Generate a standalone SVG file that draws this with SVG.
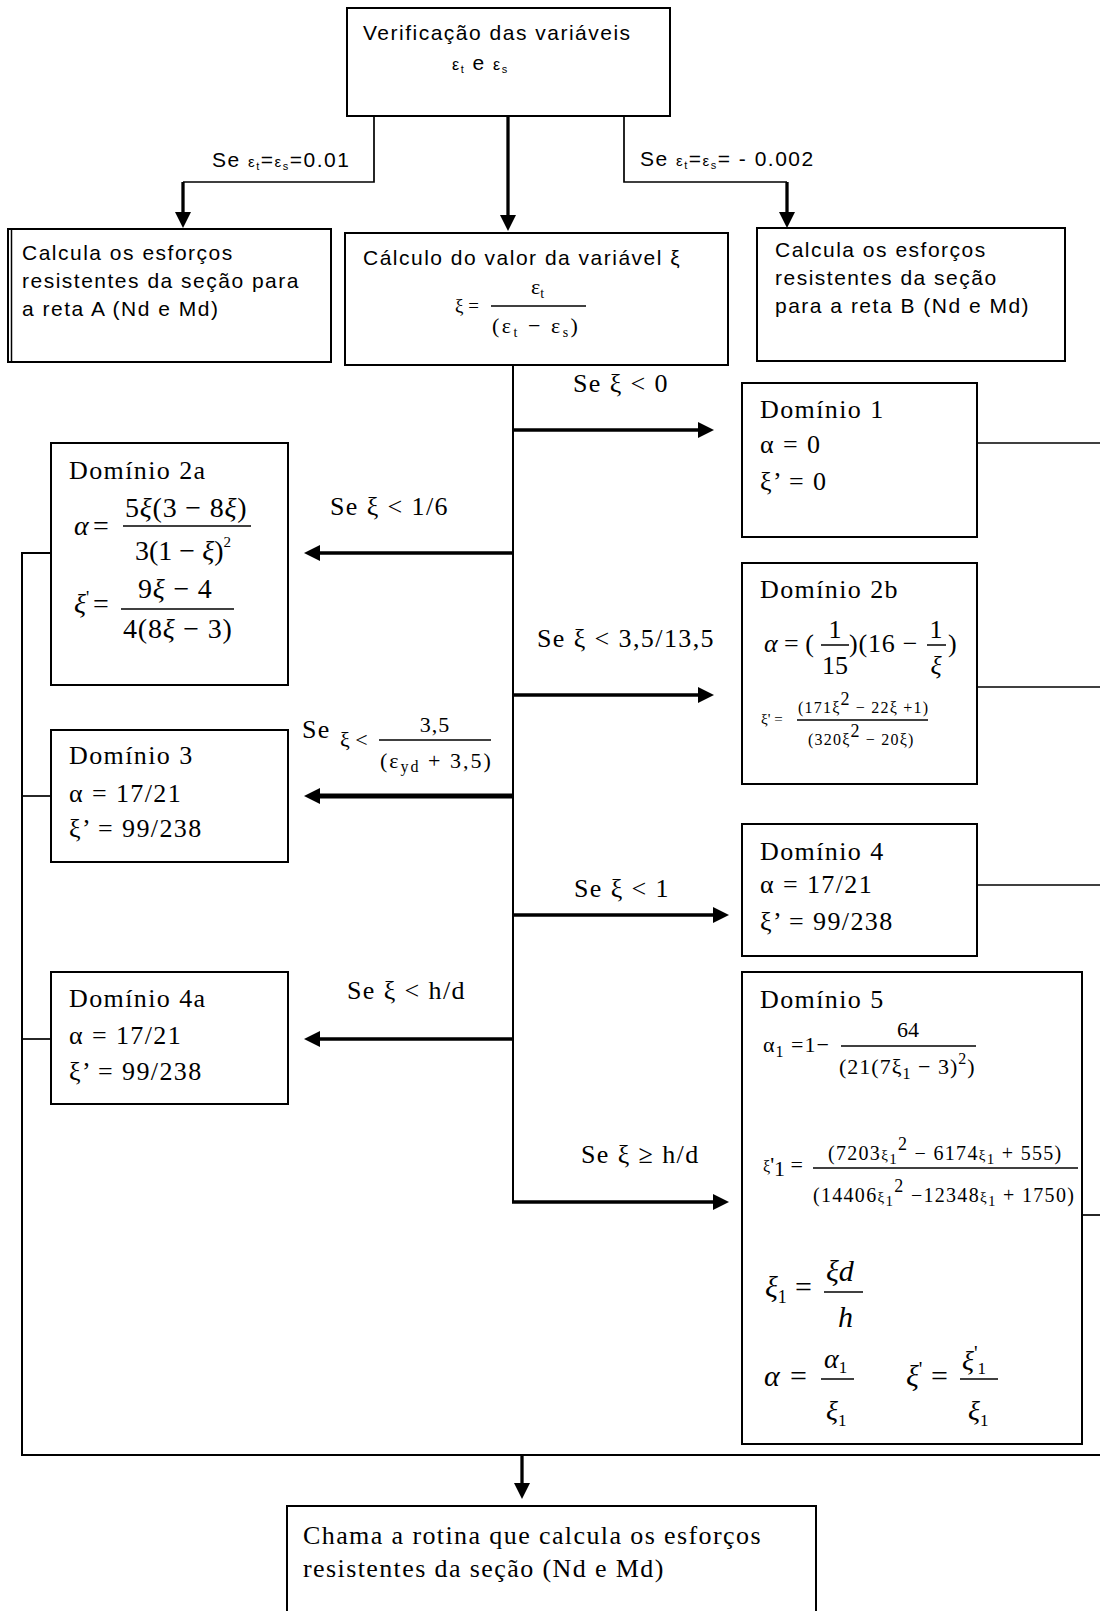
<svg xmlns="http://www.w3.org/2000/svg" width="1100" height="1611" viewBox="0 0 1100 1611">
<defs>
<style>
.box{fill:#fff;stroke:#000;stroke-width:2}
.ln{fill:none;stroke:#000;stroke-width:1.7}
.sp{fill:none;stroke:#000;stroke-width:2}
.ar{fill:none;stroke:#000;stroke-width:3.3}
.fr{stroke:#000;stroke-width:1.5}
.sans{font-family:'Liberation Sans',Arial,sans-serif;font-size:21px;letter-spacing:1.5px;fill:#000}
.ser{font-family:'Liberation Serif','Times New Roman',serif;font-size:26px;letter-spacing:1.4px;fill:#000}
.m{font-family:'Liberation Serif','Times New Roman',serif;fill:#000}
.it{font-style:italic}
.up{font-style:normal}
</style>
<marker id="ah" viewBox="0 0 16 16" markerWidth="16" markerHeight="16" markerUnits="userSpaceOnUse" refX="2" refY="8" orient="auto"><path d="M0,0 L16,8 L0,16 z" fill="#000"/></marker>
</defs>
<rect width="1100" height="1611" fill="#fff"/>

<g id="n-top">
<rect class="box" x="347" y="8" width="323" height="108"/>
<text class="sans" x="363" y="40">Verificação das variáveis</text>
<text class="sans" x="452" y="70"><tspan font-size="16">ε</tspan><tspan font-size="11" dy="3">t</tspan><tspan dy="-3"> e </tspan><tspan font-size="16">ε</tspan><tspan font-size="11" dy="3">s</tspan></text>
</g>

<g id="n-retaA">
<rect class="box" x="8" y="229" width="323" height="133"/>
<line x1="11.5" y1="229" x2="11.5" y2="362" stroke="#000" stroke-width="1.5"/>
<text class="sans" x="22" y="260">Calcula os esforços</text>
<text class="sans" x="22" y="288">resistentes da seção para</text>
<text class="sans" x="22" y="316">a reta A (Nd e Md)</text>
</g>

<g id="n-xi">
<rect class="box" x="345" y="233" width="383" height="132"/>
<text class="sans" x="363" y="265">Cálculo do valor da variável ξ</text>
<text class="m" x="455" y="312" font-size="19">ξ =</text>
<text class="m" x="531" y="294" font-size="22">ε<tspan font-size="14" dy="4">t</tspan></text>
<line class="fr" x1="491" y1="306" x2="586" y2="306"/>
<text class="m" x="492" y="333" font-size="22" letter-spacing="2.5">(ε<tspan font-size="14" dy="4">t</tspan><tspan dy="-4"> − ε</tspan><tspan font-size="14" dy="4">s</tspan><tspan dy="-4">)</tspan></text>
</g>

<g id="n-retaB">
<rect class="box" x="757" y="228" width="308" height="133"/>
<text class="sans" x="775" y="257">Calcula os esforços</text>
<text class="sans" x="775" y="285">resistentes da seção</text>
<text class="sans" x="775" y="313">para a reta B (Nd e Md)</text>
</g>

<g id="n-d1">
<rect class="box" x="742" y="383" width="235" height="154"/>
<text class="ser" x="760" y="418">Domínio 1</text>
<text class="ser" x="760" y="453">α = 0</text>
<text class="ser" x="760" y="490">ξ’ = 0</text>
</g>

<g id="n-d2a">
<rect class="box" x="51" y="443" width="237" height="242"/>
<text class="ser" x="69" y="479">Domínio 2a</text>
<text class="m it" x="74" y="535" font-size="28">α</text>
<text class="m" x="93" y="535" font-size="28">=</text>
<text class="m" x="125" y="517" font-size="28" letter-spacing="0.8">5<tspan class="it">ξ</tspan>(3 − 8<tspan class="it">ξ</tspan>)</text>
<line class="fr" x1="123" y1="526" x2="251" y2="526"/>
<text class="m" x="135" y="560" font-size="28">3(1 − <tspan class="it">ξ</tspan>)<tspan font-size="15" dy="-13">2</tspan></text>
<text class="m it" x="74" y="613" font-size="28">ξ<tspan class="up" font-size="18" dy="-9">'</tspan></text>
<text class="m" x="93" y="613" font-size="28">=</text>
<text class="m" x="138" y="598" font-size="28" letter-spacing="0.8">9<tspan class="it">ξ</tspan> − 4</text>
<line class="fr" x1="121" y1="609" x2="234" y2="609"/>
<text class="m" x="123" y="638" font-size="28" letter-spacing="0.8">4(8<tspan class="it">ξ</tspan> − 3)</text>
</g>

<g id="n-d2b">
<rect class="box" x="742" y="563" width="235" height="221"/>
<text class="ser" x="760" y="598">Domínio 2b</text>
<text class="m it" x="764" y="652" font-size="26">α</text>
<text class="m" x="784" y="652" font-size="26">= (</text>
<text class="m" x="835" y="638" font-size="26" text-anchor="middle">1</text>
<line class="fr" x1="821" y1="645" x2="849" y2="645"/>
<text class="m" x="835" y="674" font-size="26" text-anchor="middle">15</text>
<text class="m" x="849" y="652" font-size="26" letter-spacing="0.8">)(16 −</text>
<text class="m" x="936" y="638" font-size="26" text-anchor="middle">1</text>
<line class="fr" x1="927" y1="645" x2="946" y2="645"/>
<text class="m it" x="936" y="674" font-size="26" text-anchor="middle">ξ</text>
<text class="m" x="948" y="652" font-size="26">)</text>
<text class="m" x="761" y="724" font-size="15">ξ' =</text>
<text class="m" x="798" y="713" font-size="16" letter-spacing="1.2">(171ξ<tspan font-size="18" dy="-8">2</tspan><tspan dy="8"> − 22ξ +1)</tspan></text>
<line class="fr" x1="797" y1="720" x2="928" y2="720" stroke-width="1.2"/>
<text class="m" x="808" y="745" font-size="16" letter-spacing="1.2">(320ξ<tspan font-size="18" dy="-8">2</tspan><tspan dy="8"> − 20ξ)</tspan></text>
</g>

<g id="n-d3">
<rect class="box" x="51" y="730" width="237" height="132"/>
<text class="ser" x="69" y="764">Domínio 3</text>
<text class="ser" x="69" y="802">α = 17/21</text>
<text class="ser" x="69" y="837">ξ’ = 99/238</text>
</g>

<g id="n-d4">
<rect class="box" x="742" y="824" width="235" height="132"/>
<text class="ser" x="760" y="860">Domínio 4</text>
<text class="ser" x="760" y="893">α = 17/21</text>
<text class="ser" x="760" y="930">ξ’ = 99/238</text>
</g>

<g id="n-d4a">
<rect class="box" x="51" y="972" width="237" height="132"/>
<text class="ser" x="69" y="1007">Domínio 4a</text>
<text class="ser" x="69" y="1044">α = 17/21</text>
<text class="ser" x="69" y="1080">ξ’ = 99/238</text>
</g>

<g id="n-d5">
<rect class="box" x="742" y="972" width="340" height="472"/>
<text class="ser" x="760" y="1008">Domínio 5</text>
<text class="m" x="763" y="1052" font-size="22" letter-spacing="1">α<tspan font-size="16" dy="5">1</tspan><tspan dy="-5"> =1−</tspan></text>
<text class="m" x="908" y="1037" font-size="22" text-anchor="middle">64</text>
<line class="fr" x1="841" y1="1046" x2="976" y2="1046"/>
<text class="m" x="839" y="1074" font-size="22" letter-spacing="1">(21(7ξ<tspan font-size="16" dy="5">1</tspan><tspan dy="-5"> − 3)</tspan><tspan font-size="16" dy="-10">2</tspan><tspan dy="10">)</tspan></text>
<text class="m" x="763" y="1172" font-size="22"><tspan font-size="16">ξ</tspan>'<tspan dy="4">1</tspan><tspan dy="-4"> =</tspan></text>
<text class="m" x="828" y="1160" font-size="20" letter-spacing="1.3">(7203<tspan font-size="15">ξ</tspan><tspan font-size="15" dy="4">1</tspan><tspan font-size="18" dy="-14">2</tspan><tspan dy="10"> − 6174</tspan><tspan font-size="15">ξ</tspan><tspan font-size="15" dy="4">1</tspan><tspan dy="-4"> + 555)</tspan></text>
<line class="fr" x1="813" y1="1168" x2="1078" y2="1168"/>
<text class="m" x="813" y="1202" font-size="20" letter-spacing="1.3">(14406<tspan font-size="15">ξ</tspan><tspan font-size="15" dy="4">1</tspan><tspan font-size="18" dy="-14">2</tspan><tspan dy="10"> −12348</tspan><tspan font-size="15">ξ</tspan><tspan font-size="15" dy="4">1</tspan><tspan dy="-4"> + 1750)</tspan></text>
<text class="m it" x="765" y="1297" font-size="30">ξ<tspan class="up" font-size="18" dy="6">1</tspan></text>
<text class="m" x="795" y="1297" font-size="30">=</text>
<text class="m it" x="826" y="1281" font-size="30">ξd</text>
<line class="fr" x1="824" y1="1292" x2="863" y2="1292"/>
<text class="m it" x="838" y="1327" font-size="30">h</text>
<text class="m it" x="764" y="1386" font-size="30">α</text>
<text class="m" x="790" y="1386" font-size="30">=</text>
<text class="m it" x="824" y="1368" font-size="28">α<tspan class="up" font-size="17" dy="5">1</tspan></text>
<line class="fr" x1="821" y1="1379" x2="854" y2="1379"/>
<text class="m it" x="826" y="1420" font-size="28">ξ<tspan class="up" font-size="17" dy="6">1</tspan></text>
<text class="m it" x="906" y="1386" font-size="30">ξ<tspan class="up" font-size="20" dy="-10">'</tspan></text>
<text class="m" x="931" y="1386" font-size="30">=</text>
<text class="m it" x="962" y="1370" font-size="28">ξ<tspan class="up" font-size="20" dy="-10">'</tspan><tspan class="up" font-size="17" dy="14">1</tspan></text>
<line class="fr" x1="960" y1="1379" x2="998" y2="1379"/>
<text class="m it" x="968" y="1420" font-size="28">ξ<tspan class="up" font-size="17" dy="6">1</tspan></text>
</g>

<g id="n-end">
<rect class="box" x="287" y="1506" width="529" height="120"/>
<text class="ser" x="303" y="1544">Chama a rotina que calcula os esforços</text>
<text class="ser" x="303" y="1577">resistentes da seção (Nd e Md)</text>
</g>

<g id="connectors">
<path class="ln" d="M374,116 V182 H183"/>
<path class="ar" d="M183,182 V214" marker-end="url(#ah)"/>
<path class="ar" d="M508,116 V217" marker-end="url(#ah)"/>
<path class="ln" d="M624,116 V182 H787"/>
<path class="ar" d="M787,182 V214" marker-end="url(#ah)"/>
<path class="sp" d="M513,365 V1202"/>
<path class="ar" d="M513,430 H700" marker-end="url(#ah)"/>
<path class="ar" d="M513,695 H700" marker-end="url(#ah)"/>
<path class="ar" d="M513,915 H715" marker-end="url(#ah)"/>
<path class="ar" d="M512,1202 H715" marker-end="url(#ah)"/>
<path class="ar" d="M513,553 H318" marker-end="url(#ah)"/>
<path class="ar" style="stroke-width:5" d="M513,796 H318" marker-end="url(#ah)"/>
<path class="ar" style="stroke-width:3.7" d="M513,1039 H318" marker-end="url(#ah)"/>
<path class="ln" d="M977,443 H1100"/>
<path class="ln" d="M977,687 H1100"/>
<path class="ln" d="M977,885 H1100"/>
<path class="ln" d="M1082,1215 H1100"/>
<path class="sp" d="M51,553 H22 V1455 H1100"/>
<path class="ln" d="M22,796 H51"/>
<path class="ln" d="M22,1039 H51"/>
<path class="ar" d="M522,1455 V1485" marker-end="url(#ah)"/>
</g>

<g id="labels">
<text class="sans" x="212" y="167">Se <tspan font-size="15">ε</tspan><tspan font-size="11" dy="3">t</tspan><tspan dy="-3">=</tspan><tspan font-size="15">ε</tspan><tspan font-size="11" dy="3">s</tspan><tspan dy="-3">=0.01</tspan></text>
<text class="sans" x="640" y="166">Se <tspan font-size="15">ε</tspan><tspan font-size="11" dy="3">t</tspan><tspan dy="-3">=</tspan><tspan font-size="15">ε</tspan><tspan font-size="11" dy="3">s</tspan><tspan dy="-3">= - 0.002</tspan></text>
<text class="ser" x="573" y="392">Se ξ &lt; 0</text>
<text class="ser" x="330" y="515">Se ξ &lt; 1/6</text>
<text class="ser" x="537" y="647">Se ξ &lt; 3,5/13,5</text>
<text class="ser" x="302" y="738">Se</text>
<text class="m" x="340" y="747" font-size="22">ξ &lt;</text>
<text class="m" x="435" y="732" font-size="22" text-anchor="middle" letter-spacing="1">3,5</text>
<line class="fr" x1="379" y1="740" x2="491" y2="740"/>
<text class="m" x="380" y="768" font-size="22" letter-spacing="2">(ε<tspan font-size="16" dy="4">yd</tspan><tspan dy="-4"> + 3,5)</tspan></text>
<text class="ser" x="574" y="897">Se ξ &lt; 1</text>
<text class="ser" x="347" y="999">Se ξ &lt; h/d</text>
<text class="ser" x="581" y="1163">Se ξ ≥ h/d</text>
</g>
</svg>
